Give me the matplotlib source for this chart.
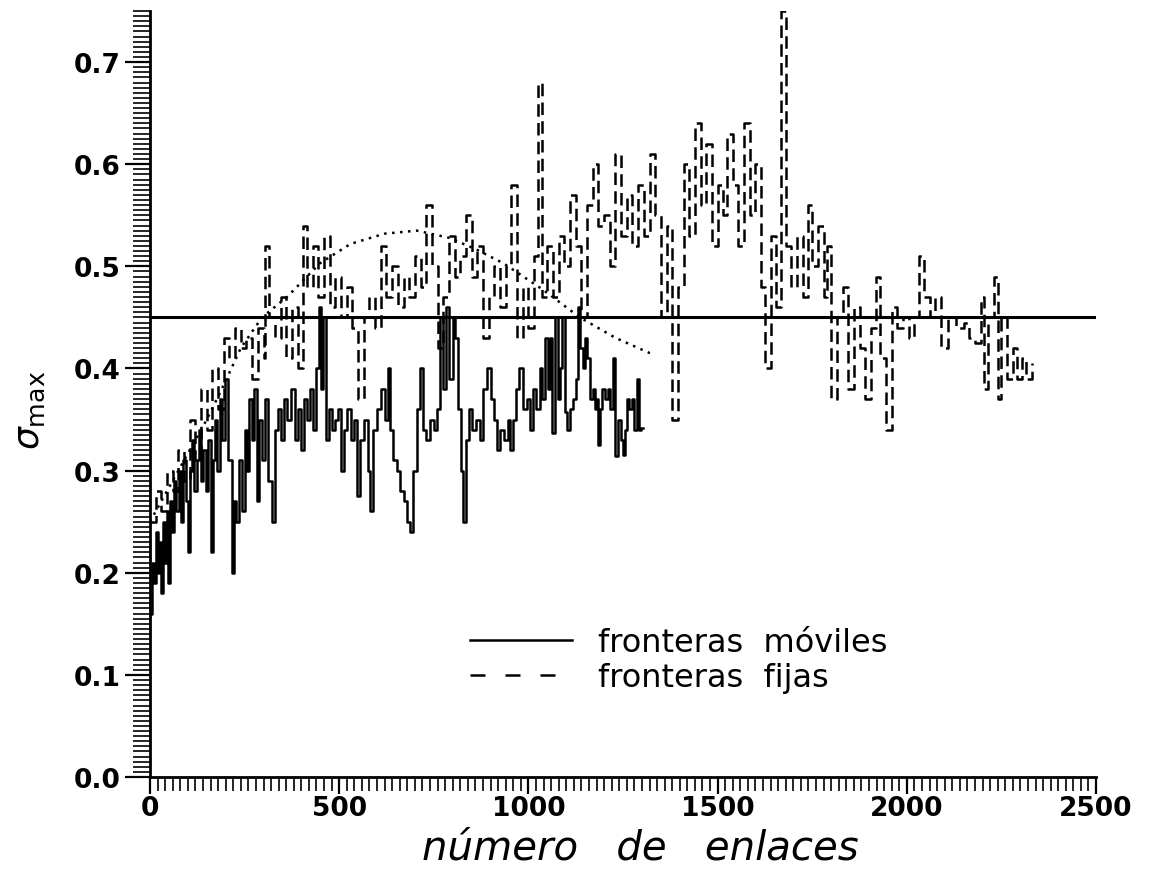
import matplotlib
matplotlib.use('Agg')
import matplotlib.pyplot as plt
from matplotlib.lines import Line2D
from matplotlib.ticker import MultipleLocator

# fronteras moviles (solid)
moviles_x = [0, 5, 10, 15, 20, 25, 30, 35, 40, 45, 48, 52, 58, 64, 70, 76, 82, 88, 94, 100,
             105, 111, 117, 123, 129, 135, 141, 147, 153, 160, 166, 172, 178, 184, 190, 198,
             205, 217, 222, 228, 236, 244, 251, 256, 262, 270, 276, 282, 288, 296, 304, 312,
             322, 330, 338, 346, 354, 362, 372, 382, 390, 398, 406, 414, 422, 430, 438, 446,
             452, 458, 466, 474, 482, 490, 498, 504, 512, 520, 530, 540, 547, 555, 565, 575,
             581, 590, 600, 610, 620, 628, 634, 642, 652, 662, 672, 680, 687, 695, 705, 713,
             721, 730, 740, 750, 758, 766, 774, 782, 790, 800, 806, 814, 822, 827, 834, 842,
             852, 862, 872, 880, 890, 900, 910, 917, 925, 935, 945, 951, 959, 967, 975, 985,
             996, 1004, 1012, 1020, 1030, 1036, 1045, 1052, 1057, 1062, 1070, 1078, 1084, 1089,
             1096, 1102, 1110, 1118, 1125, 1131, 1136, 1143, 1150, 1156, 1163, 1170, 1176, 1181,
             1184, 1190, 1195, 1203, 1210, 1216, 1224, 1230, 1237, 1244, 1250, 1256, 1260, 1267,
             1274, 1280, 1287, 1292, 1298, 1303]
moviles_y = [0.16, 0.21, 0.19, 0.24, 0.20, 0.23, 0.18, 0.25, 0.21, 0.26, 0.19, 0.27, 0.24, 0.29,
             0.26, 0.30, 0.25, 0.31, 0.27, 0.22, 0.30, 0.33, 0.28, 0.31, 0.34, 0.29, 0.32, 0.28,
             0.33, 0.22, 0.31, 0.35, 0.30, 0.37, 0.33, 0.39, 0.31, 0.20, 0.27, 0.25, 0.31, 0.26,
             0.34, 0.30, 0.37, 0.33, 0.38, 0.27, 0.35, 0.31, 0.37, 0.29, 0.25, 0.34, 0.36, 0.33,
             0.37, 0.35, 0.38, 0.33, 0.36, 0.32, 0.37, 0.35, 0.38, 0.34, 0.40, 0.46, 0.38, 0.45,
             0.33, 0.36, 0.34, 0.35, 0.36, 0.30, 0.34, 0.36, 0.33, 0.35, 0.275, 0.33, 0.35, 0.30,
             0.26, 0.34, 0.36, 0.38, 0.35, 0.40, 0.34, 0.31, 0.30, 0.28, 0.27, 0.25, 0.24, 0.30,
             0.36, 0.40, 0.34, 0.33, 0.35, 0.34, 0.36, 0.45, 0.38, 0.46, 0.39, 0.45, 0.43, 0.36,
             0.30, 0.25, 0.33, 0.36, 0.34, 0.35, 0.33, 0.38, 0.40, 0.37, 0.35, 0.32, 0.34, 0.33,
             0.35, 0.32, 0.35, 0.38, 0.40, 0.36, 0.37, 0.34, 0.38, 0.36, 0.40, 0.37, 0.43, 0.38,
             0.43, 0.337, 0.45, 0.37, 0.40, 0.45, 0.357, 0.34, 0.36, 0.37, 0.39, 0.46, 0.42, 0.40,
             0.43, 0.41, 0.37, 0.38, 0.36, 0.37, 0.325, 0.36, 0.38, 0.37, 0.38, 0.36, 0.41, 0.314,
             0.35, 0.33, 0.315, 0.34, 0.37, 0.36, 0.37, 0.34, 0.39, 0.34, 0.342, 0.342]

# fronteras fijas (dashed)
fijas_x = [0, 15, 30, 45, 60, 75, 90, 105, 120, 135, 150, 165, 180, 195, 210, 225, 240, 255,
           270, 285, 300, 305, 315, 330, 345, 360, 375, 390, 405, 415, 430, 445, 460, 475, 490,
           505, 520, 535, 550, 565, 580, 595, 610, 625, 640, 655, 670, 685, 700, 715, 730, 745,
           760, 775, 790, 805, 820, 835, 850, 865, 880, 895, 910, 925, 940, 955, 970, 985, 1000,
           1015, 1025, 1035, 1050, 1065, 1080, 1095, 1110, 1125, 1140, 1155, 1170, 1185, 1200,
           1215, 1230, 1245, 1260, 1275, 1290, 1305, 1320, 1335, 1350, 1365, 1380, 1395, 1410,
           1425, 1440, 1455, 1470, 1485, 1500, 1515, 1525, 1540, 1555, 1570, 1585, 1600, 1615,
           1625, 1640, 1655, 1668, 1680, 1695, 1710, 1725, 1738, 1750, 1765, 1780, 1790, 1800,
           1815, 1830, 1845, 1860, 1875, 1890, 1905, 1918, 1930, 1945, 1960, 1975, 1990, 2005,
           2020, 2032, 2045, 2060, 2075, 2090, 2110, 2130, 2150, 2165, 2180, 2195, 2205, 2215,
           2230, 2240, 2250, 2265, 2280, 2290, 2305, 2315, 2330]
fijas_y = [0.25, 0.28, 0.26, 0.30, 0.28, 0.32, 0.29, 0.35, 0.31, 0.38, 0.34, 0.40, 0.36, 0.43,
           0.41, 0.44, 0.42, 0.43, 0.39, 0.44, 0.41, 0.52, 0.45, 0.43, 0.47, 0.41, 0.46, 0.40,
           0.54, 0.48, 0.52, 0.47, 0.53, 0.46, 0.49, 0.45, 0.48, 0.44, 0.37, 0.45, 0.47, 0.44,
           0.52, 0.47, 0.50, 0.46, 0.49, 0.47, 0.51, 0.48, 0.56, 0.50, 0.42, 0.47, 0.53, 0.49,
           0.51, 0.55, 0.49, 0.52, 0.43, 0.47, 0.50, 0.46, 0.50, 0.58, 0.43, 0.48, 0.44, 0.51,
           0.68, 0.47, 0.52, 0.47, 0.53, 0.50, 0.57, 0.52, 0.45, 0.56, 0.60, 0.54, 0.55, 0.50,
           0.61, 0.53, 0.57, 0.52, 0.58, 0.53, 0.61, 0.55, 0.45, 0.54, 0.35, 0.48, 0.60, 0.53,
           0.64, 0.56, 0.62, 0.52, 0.58, 0.55, 0.63, 0.58, 0.52, 0.64, 0.55, 0.60, 0.48, 0.40,
           0.53, 0.46, 0.75, 0.52, 0.48, 0.53, 0.47, 0.56, 0.50, 0.54, 0.47, 0.52, 0.37, 0.45,
           0.48, 0.38, 0.46, 0.42, 0.37, 0.44, 0.49, 0.41, 0.34, 0.46, 0.44, 0.45, 0.43, 0.45,
           0.51, 0.47, 0.45, 0.47, 0.42, 0.45, 0.44, 0.445, 0.43, 0.425, 0.47, 0.38, 0.45, 0.49,
           0.37, 0.45, 0.39, 0.42, 0.39, 0.41, 0.39, 0.405]

# smooth fit (dotted)
ajuste_x = [0, 75, 150, 190, 240, 296, 362, 449, 530, 620, 705, 790, 860, 934, 1039, 1136,
            1230, 1321]
ajuste_y = [0.25, 0.30, 0.35, 0.38, 0.42, 0.45, 0.47, 0.503, 0.522, 0.532, 0.535, 0.528,
            0.517, 0.503, 0.477, 0.45, 0.43, 0.415]

umbral = 0.45

fig = plt.figure(figsize=(11.68, 8.79), dpi=100)
ax = fig.add_axes([0.1284, 0.1149, 0.81, 0.8714])

ax.plot(moviles_x, moviles_y, color='black', lw=1.8, drawstyle='steps-post')
ax.plot(fijas_x, fijas_y, color='black', lw=1.8, drawstyle='steps-post', dashes=(5, 2.5))
ax.plot(ajuste_x, ajuste_y, color='black', lw=1.8, dashes=(1, 2.2))
ax.axhline(umbral, color='black', lw=2.2)

ax.set_xlim(0, 2500)
ax.set_ylim(0, 0.75)
ax.xaxis.set_major_locator(MultipleLocator(500))
ax.xaxis.set_minor_locator(MultipleLocator(20))
ax.yaxis.set_major_locator(MultipleLocator(0.1))
ax.yaxis.set_minor_locator(MultipleLocator(0.005))
ax.yaxis.set_major_formatter(matplotlib.ticker.FormatStrFormatter('%.1f'))

for s in ['top', 'right']:
    ax.spines[s].set_visible(False)
for s in ['left', 'bottom']:
    ax.spines[s].set_linewidth(2)

ax.tick_params(axis='y', which='major', length=18, width=1.6, pad=3)
ax.tick_params(axis='y', which='minor', length=12, width=1.2)
ax.tick_params(axis='x', which='major', length=12, width=1.6, pad=1)
ax.tick_params(axis='x', which='minor', length=10, width=1.2)
for lab in ax.get_xticklabels() + ax.get_yticklabels():
    lab.set_fontsize(19)
    lab.set_fontweight('bold')

fig.text(640 / 1168, 1 - 848 / 879, 'número   de   enlaces', fontsize=29, style='oblique',
         ha='center', va='center')
fig.text(30 / 1168, 1 - 410 / 879, r'$\sigma_{\rm max}$', fontsize=26, rotation=90,
         ha='center', va='center')

h1 = Line2D([], [], color='black', lw=1.8)
h2 = Line2D([], [], color='black', lw=1.8, dashes=(6, 8))
ax.legend([h1, h2], ['fronteras  móviles', 'fronteras  fijas'], loc='upper left',
          bbox_to_anchor=(0.338, 0.196), frameon=False, fontsize=23, handlelength=3.2,
          handletextpad=0.8, labelspacing=0.12, borderpad=0, borderaxespad=0)

fig.savefig('out.png', dpi=100)
